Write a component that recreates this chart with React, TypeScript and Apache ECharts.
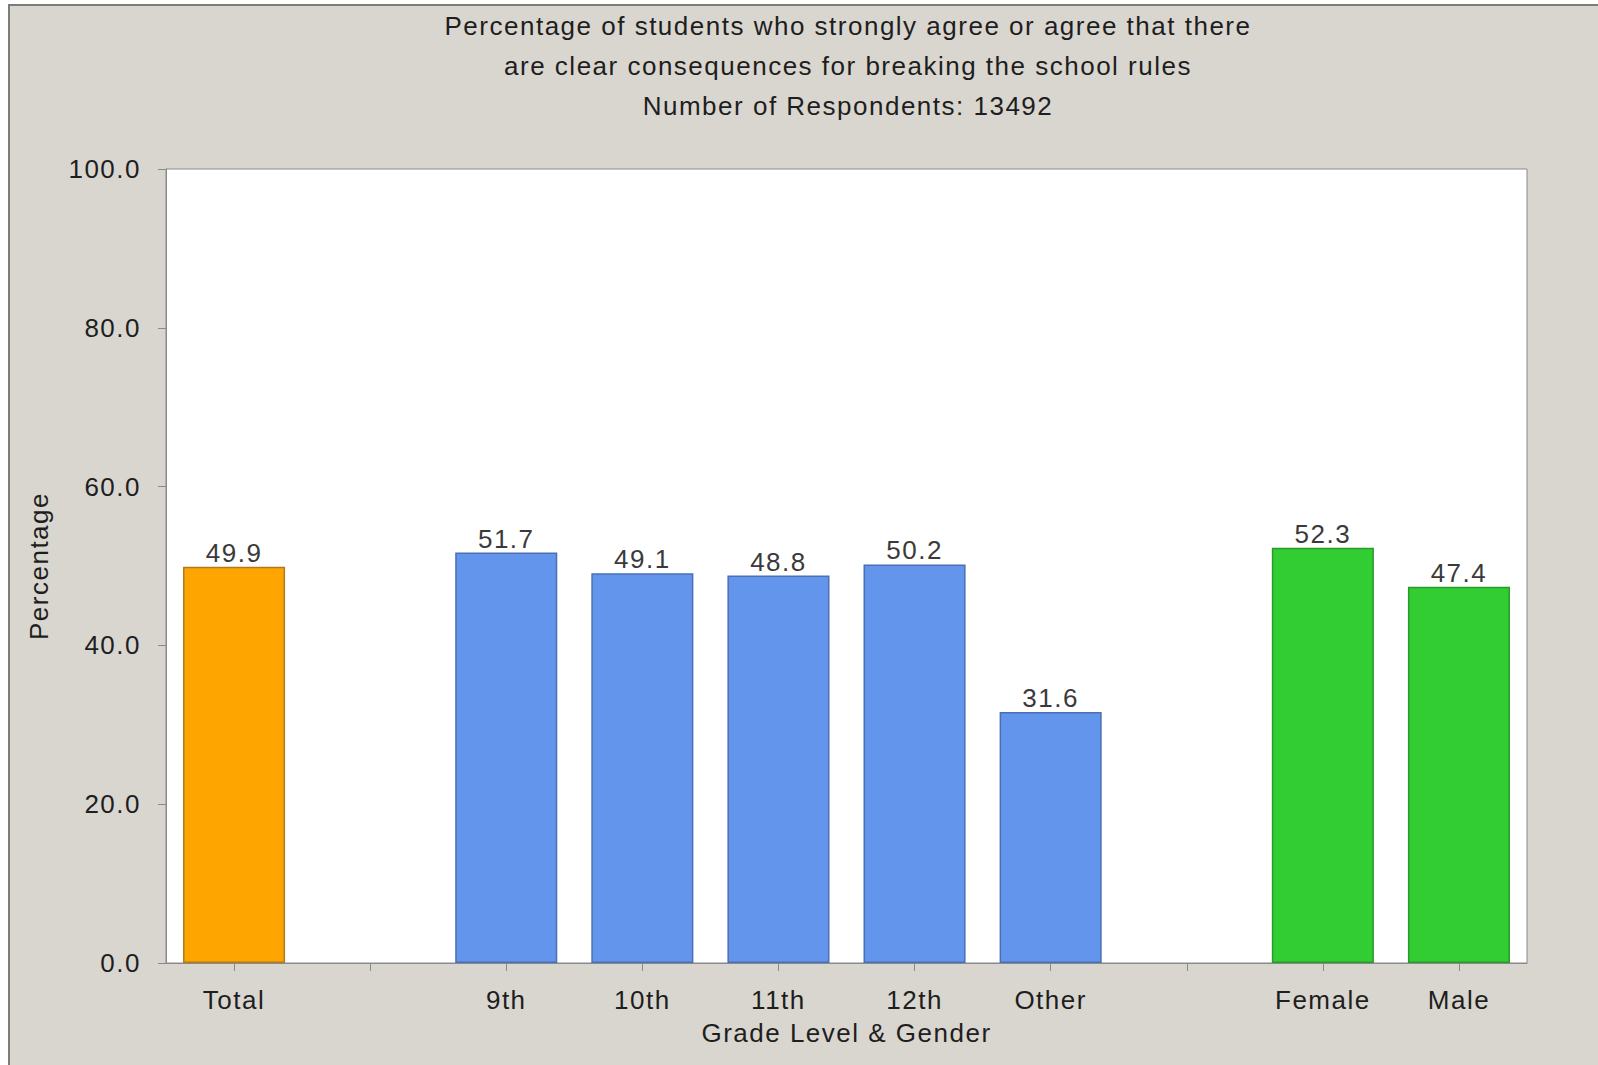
import React, { useEffect, useRef } from "react";
import * as echarts from "echarts";

const titleLines = [
  "Percentage of students who strongly agree or agree that there",
  "are clear consequences for breaking the school rules",
  "Number of Respondents: 13492",
];
const categories = ["Total", "", "9th", "10th", "11th", "12th", "Other", "", "Female", "Male"];
const values: (number | null)[] = [49.9, null, 51.7, 49.1, 48.8, 50.2, 31.6, null, 52.3, 47.4];
const groups = ["total", "", "grade", "grade", "grade", "grade", "grade", "", "gender", "gender"];
const yTicks = [0, 20, 40, 60, 80, 100];

const groupColors: Record<string, string> = {
  total: "#FFA500",
  grade: "#6495ED",
  gender: "#32CD32",
};
const groupBorders: Record<string, string> = {
  total: "#B07A20",
  grade: "#4A6FB5",
  gender: "#2A9A2A",
};

const FONT = "'Liberation Sans', Arial, sans-serif";

export default function App() {
  const ref = useRef<HTMLDivElement>(null);
  useEffect(() => {
    document.body.style.margin = "0";
    const chart = echarts.init(ref.current!, null, { renderer: "svg" });
    chart.setOption({
      animation: false,
      backgroundColor: "#ffffff",
      graphic: [
        {
          type: "rect",
          z: -10,
          silent: true,
          shape: { x: 9, y: 5, width: 1700, height: 1200 },
          style: { fill: "#D9D6D0", stroke: "#7C7C7C", lineWidth: 2 },
        },
      ],
      title: {
        text: titleLines.join("\n"),
        left: 848,
        textAlign: "center",
        top: 6,
        padding: 0,
        textStyle: {
          fontFamily: FONT,
          fontSize: 26,
          fontWeight: "normal",
          color: "#1E1E1E",
          lineHeight: 40,
        },
      },
      grid: {
        left: 166,
        right: 71,
        top: 169,
        bottom: 102,
        show: true,
        backgroundColor: "#FFFFFF",
        borderColor: "#8A8A8A",
        borderWidth: 1,
      },
      xAxis: {
        type: "category",
        data: categories,
        name: "Grade Level & Gender",
        nameLocation: "middle",
        nameGap: 57,
        nameTextStyle: { fontFamily: FONT, fontSize: 26, color: "#1E1E1E" },
        axisLine: { show: true, lineStyle: { color: "#8A8A8A", width: 1 } },
        axisTick: { show: true, alignWithLabel: true, interval: 0, length: 8, lineStyle: { color: "#8A8A8A" } },
        axisLabel: { interval: 0, margin: 24, fontFamily: FONT, fontSize: 26, color: "#1E1E1E" },
        splitLine: { show: false },
      },
      yAxis: {
        type: "value",
        min: yTicks[0],
        max: yTicks[yTicks.length - 1],
        interval: yTicks[1] - yTicks[0],
        name: "Percentage",
        nameLocation: "middle",
        nameRotate: 90,
        nameGap: 114,
        nameTextStyle: { fontFamily: FONT, fontSize: 26, color: "#1E1E1E" },
        axisLine: { show: true, lineStyle: { color: "#8A8A8A", width: 1 } },
        axisTick: { show: true, length: 8, lineStyle: { color: "#8A8A8A" } },
        axisLabel: {
          margin: 25,
          fontFamily: FONT,
          fontSize: 26,
          color: "#1E1E1E",
          formatter: (v: number) => v.toFixed(1),
        },
        splitLine: { show: false },
      },
      series: [
        {
          type: "bar",
          barWidth: "75%",
          data: values.map((v, i) => ({
            value: v === null ? "-" : v,
            itemStyle: groups[i]
              ? { color: groupColors[groups[i]], borderColor: groupBorders[groups[i]], borderWidth: 1.5 }
              : undefined,
          })),
          label: {
            show: true,
            position: "top",
            distance: 1,
            fontFamily: FONT,
            fontSize: 26,
            color: "#3A3A3A",
            formatter: (p: any) => (typeof p.value === "number" ? p.value.toFixed(1) : ""),
          },
        },
      ],
    });
    return () => chart.dispose();
  }, []);
  return (
    <>
      <style>{"#chart text{letter-spacing:1.5px}"}</style>
      <div id="chart" ref={ref} style={{ width: 1598, height: 1065 }} />
    </>
  );
}
